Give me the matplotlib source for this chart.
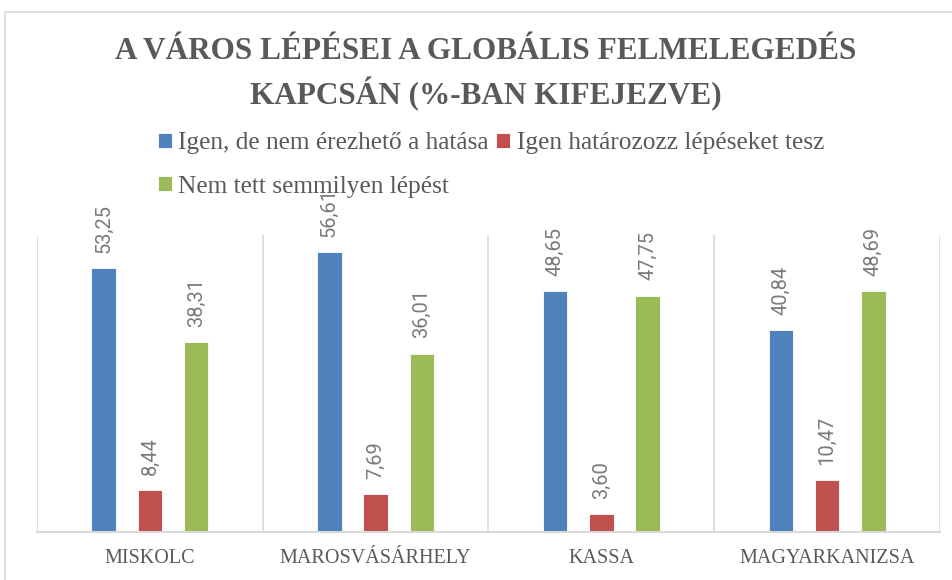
import matplotlib.pyplot as plt
import numpy as np
from matplotlib.patches import Rectangle

cities = ["MISKOLC", "MAROSVÁSÁRHELY", "KASSA", "MAGYARKANIZSA"]
series_names = [
    "Igen, de nem érezhető a hatása",
    "Igen határozozz lépéseket tesz",
    "Nem tett semmilyen lépést",
]
igen_nem_erezheto = [53.25, 56.61, 48.65, 40.84]
igen_lepeseket = [8.44, 7.69, 3.60, 10.47]
nem_tett = [38.31, 36.01, 47.75, 48.69]

colors = ["#4f81bd", "#c0504d", "#9bbb59"]
text_gray = "#595959"
grid_gray = "#d9d9d9"

fig = plt.figure(figsize=(9.53, 5.8), dpi=100)
ax = fig.add_axes([37 / 953, 48 / 580, 903 / 953, 297 / 580])

# outer chart frame
fig.patches.append(
    Rectangle((5 / 953, -0.1), 1.1, (580 - 12) / 580 + 0.1,
              transform=fig.transFigure, fill=False,
              edgecolor=grid_gray, linewidth=1.2)
)

x = np.arange(len(cities))
width = 0.108
offset = 0.205
handles = []
for i, (vals, name) in enumerate(zip([igen_nem_erezheto, igen_lepeseket, nem_tett], series_names)):
    pos = x + (i - 1) * offset
    bars = ax.bar(pos, vals, width, color=colors[i], edgecolor="white",
                  linewidth=0.6, label=name, zorder=2)
    handles.append(bars)
    for b, v in zip(bars, vals):
        ax.annotate(f"{v:.2f}".replace(".", ","),
                    (b.get_x() + b.get_width() / 2, v),
                    xytext=(0, 11), textcoords="offset points",
                    rotation=90, ha="center", va="bottom",
                    fontsize=14.5, color="#7a7a7a", family="Roboto")

# category separators
for sep in np.arange(-0.5, len(cities), 1.0):
    ax.axvline(sep, color=grid_gray, linewidth=1.2, zorder=1)

ax.set_xlim(-0.5, len(cities) - 0.5)
ax.set_ylim(0, 60)
ax.set_yticks([])
for s in ["top", "left", "right"]:
    ax.spines[s].set_visible(False)
ax.spines["bottom"].set_color(grid_gray)
ax.spines["bottom"].set_linewidth(1.5)
ax.set_xticks(x)
ax.set_xticklabels(cities, fontsize=14.5, color=text_gray, family="Liberation Serif")
ax.tick_params(axis="x", length=0, pad=12)

fig.text(486 / 953, 1 - 74 / 580,
         "A VÁROS LÉPÉSEI A GLOBÁLIS FELMELEGEDÉS\nKAPCSÁN (%-BAN KIFEJEZVE)",
         ha="center", va="center", fontsize=22.5, fontweight="bold",
         color=text_gray, family="Liberation Serif", linespacing=1.4)

# column-first fill: blue, green in column 1, red in column 2
order = [0, 2, 1]
fig.legend([handles[k] for k in order], [series_names[k] for k in order],
           loc="center", bbox_to_anchor=(491 / 953, 1 - 165 / 580), ncol=2,
           frameon=False, prop={"family": "Liberation Serif", "size": 18.3},
           labelcolor=text_gray, handlelength=0.55, handleheight=0.55,
           handletextpad=0.25, columnspacing=0.3, labelspacing=0.85)

fig.savefig("out.png", dpi=100)
